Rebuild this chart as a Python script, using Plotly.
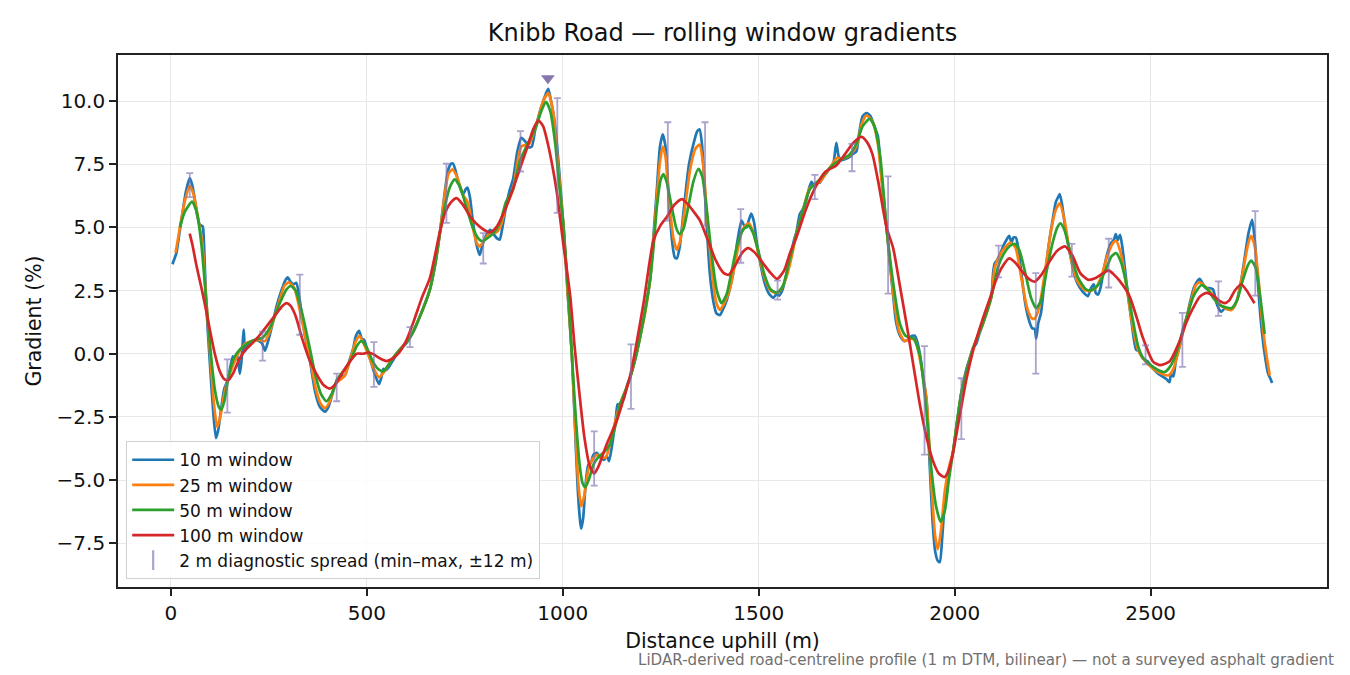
import plotly.graph_objects as go

# ---------------- data ----------------
x10 = [4, 10, 14, 22, 30, 38, 48, 54, 60, 68, 74, 81, 84, 90, 100, 108, 115, 121, 128, 136, 146, 152, 158, 163, 168, 172, 176, 180, 186, 189, 195, 206, 215, 225, 233, 240, 248, 258, 270, 282, 292, 298, 305, 312, 320, 328, 340, 355, 368, 380, 393, 402, 412, 425, 435, 444, 455, 465, 472, 480, 487, 493, 500, 510, 520, 531, 536, 542, 548, 555, 565, 584, 600, 610, 620, 635, 661, 675, 686, 698, 708, 714, 720, 727, 735, 745, 752, 757, 763, 770, 780, 788, 795, 805, 815, 825, 833, 839, 846, 855, 865, 873, 884, 894, 904, 914, 921, 930, 940, 950, 957, 963, 970, 978, 985, 995, 1002, 1012, 1023, 1030, 1038, 1044, 1047, 1052, 1058, 1065, 1072, 1078, 1087, 1095, 1105, 1112, 1118, 1125, 1135, 1140, 1146, 1155, 1165, 1172, 1185, 1197, 1210, 1223, 1232, 1240, 1248, 1255, 1262, 1270, 1280, 1286, 1291, 1298, 1310, 1322, 1335, 1343, 1349, 1355, 1365, 1375, 1385, 1392, 1401, 1410, 1418, 1426, 1435, 1445, 1456, 1462, 1469, 1475, 1481, 1488, 1495, 1505, 1515, 1525, 1537, 1545, 1552, 1560, 1570, 1580, 1590, 1596, 1605, 1612, 1620, 1630, 1635, 1642, 1650, 1656, 1665, 1675, 1681, 1690, 1698, 1704, 1711, 1720, 1732, 1740, 1749, 1757, 1765, 1775, 1785, 1795, 1804, 1812, 1820, 1826, 1835, 1843, 1850, 1858, 1865, 1872, 1880, 1890, 1898, 1904, 1911, 1920, 1928, 1935, 1943, 1950, 1957, 1962, 1968, 1975, 1985, 1996, 2005, 2017, 2030, 2040, 2047, 2055, 2063, 2072, 2085, 2094, 2098, 2102, 2108, 2115, 2125, 2132, 2139, 2145, 2150, 2156, 2162, 2170, 2180, 2190, 2198, 2204, 2208, 2213, 2220, 2230, 2240, 2250, 2258, 2264, 2268, 2274, 2282, 2290, 2300, 2310, 2320, 2330, 2340, 2348, 2355, 2360, 2366, 2372, 2380, 2390, 2400, 2406, 2411, 2416, 2422, 2428, 2440, 2450, 2457, 2463, 2470, 2480, 2492, 2506, 2520, 2530, 2540, 2548, 2552, 2558, 2565, 2574, 2583, 2591, 2600, 2610, 2618, 2625, 2632, 2640, 2650, 2659, 2668, 2675, 2680, 2690, 2700, 2710, 2720, 2730, 2740, 2750, 2759, 2765, 2772, 2780, 2790, 2800, 2806, 2810]
g10 = [3.54, 3.8, 3.98, 4.8, 5.6, 6.4, 6.95, 6.7, 6.2, 5.4, 5.1, 5.04, 4.5, 2.0, -0.5, -2.3, -3.34, -3.0, -2.2, -1.4, -1.0, -0.5, -0.1, -0.3, 0.0, -0.3, -0.8, -0.3, 0.95, 0.1, 0.3, 0.5, 0.55, 0.5, 0.4, 0.12, 0.5, 1.1, 1.9, 2.5, 2.9, 3.02, 2.85, 2.75, 2.8, 2.2, 0.9, -0.3, -1.5, -2.1, -2.29, -2.1, -1.6, -1.0, -0.9, -0.86, -0.3, 0.2, 0.7, 0.91, 0.6, 0.55, 0.2, -0.3, -0.8, -1.2, -1.0, -0.6, -0.65, -0.55, -0.3, 0.16, 0.4, 0.64, 0.9, 1.46, 2.55, 3.6, 4.73, 6.3, 7.3, 7.5, 7.52, 7.2, 6.7, 6.3, 6.5, 6.57, 6.2, 5.3, 4.3, 3.91, 4.3, 4.7, 4.9, 4.7, 4.55, 4.52, 5.0, 5.8, 6.5, 6.9, 8.0, 8.54, 8.4, 8.16, 8.2, 8.9, 9.5, 10.0, 10.3, 10.48, 10.0, 9.3, 8.3, 6.4, 5.0, 2.5, 0.0, -2.5, -5.3, -6.6, -6.92, -6.5, -5.2, -4.4, -4.3, -4.0, -3.92, -4.1, -4.2, -4.05, -4.25, -3.7, -2.6, -2.0, -2.0, -1.8, -1.2, -0.93, -0.2, 0.64, 1.7, 2.96, 4.8, 6.5, 8.2, 8.68, 8.2, 6.2, 4.3, 3.8, 3.77, 4.2, 5.9, 7.5, 8.4, 8.8, 8.88, 8.3, 5.7, 3.2, 2.0, 1.6, 1.53, 1.8, 2.1, 2.55, 3.2, 4.4, 5.27, 5.1, 5.0, 5.3, 5.54, 5.2, 4.4, 3.5, 2.8, 2.4, 2.21, 2.35, 2.3, 2.5, 3.1, 3.8, 4.5, 4.8, 5.54, 5.7, 6.0, 6.63, 6.8, 6.6, 6.8, 6.77, 7.0, 7.2, 7.32, 7.5, 8.34, 7.8, 7.66, 7.7, 7.79, 7.9, 8.0, 8.8, 9.4, 9.52, 9.4, 9.0, 8.6, 7.2, 6.0, 5.0, 3.5, 2.3, 1.3, 0.8, 0.6, 0.5, 0.55, 0.7, 0.71, 0.5, 0.0, -1.0, -1.81, -4.0, -6.5, -7.8, -8.2, -8.24, -7.3, -5.8, -4.7, -3.86, -2.8, -1.54, -0.6, -0.1, 0.23, 0.4, 0.8, 1.19, 1.8, 2.28, 3.2, 3.57, 3.7, 3.91, 4.3, 4.5, 4.66, 4.4, 4.6, 4.6, 4.2, 3.2, 2.0, 1.3, 1.0, 0.98, 0.6, 1.2, 1.6, 3.0, 4.3, 5.3, 6.0, 6.2, 6.32, 5.9, 5.0, 4.3, 3.5, 2.9, 2.6, 2.4, 2.28, 2.6, 2.75, 2.4, 2.34, 2.6, 3.3, 4.0, 4.4, 4.5, 4.73, 4.5, 4.7, 4.2, 2.6, 1.4, 0.6, 0.16, 0.1, -0.18, -0.3, -0.59, -0.8, -0.9, -1.0, -1.13, -0.8, -0.9, -0.2, 0.3, 1.0, 1.39, 2.0, 2.6, 2.85, 2.96, 2.8, 2.6, 2.6, 2.55, 2.0, 1.75, 1.66, 1.8, 1.75, 1.8, 2.1, 2.8, 3.8, 4.8, 5.3, 4.6, 3.2, 1.5, 0.1, -0.8, -1.0, -1.16]

x25 = [12, 23, 35, 48, 58, 70, 80, 88, 100, 110, 118, 126, 136, 146, 160, 175, 190, 206, 225, 240, 255, 275, 290, 301, 315, 325, 340, 355, 370, 383, 393, 405, 420, 444, 460, 472, 481, 492, 505, 518, 531, 545, 560, 584, 610, 635, 661, 675, 686, 698, 708, 718, 730, 745, 757, 770, 780, 788, 800, 815, 830, 840, 855, 873, 894, 914, 935, 950, 963, 975, 985, 995, 1002, 1012, 1023, 1032, 1040, 1047, 1055, 1065, 1075, 1087, 1100, 1110, 1120, 1135, 1146, 1160, 1172, 1185, 1197, 1210, 1223, 1232, 1240, 1248, 1255, 1262, 1272, 1282, 1291, 1300, 1312, 1325, 1338, 1349, 1358, 1368, 1380, 1392, 1401, 1412, 1426, 1440, 1456, 1468, 1476, 1488, 1500, 1515, 1530, 1543, 1555, 1570, 1585, 1596, 1615, 1630, 1656, 1681, 1700, 1711, 1732, 1749, 1763, 1775, 1790, 1804, 1815, 1826, 1843, 1858, 1872, 1890, 1900, 1911, 1928, 1940, 1950, 1957, 1965, 1975, 1985, 1996, 2017, 2047, 2072, 2094, 2102, 2115, 2128, 2142, 2155, 2170, 2185, 2197, 2204, 2215, 2230, 2245, 2258, 2268, 2280, 2295, 2312, 2330, 2345, 2360, 2375, 2390, 2405, 2412, 2425, 2440, 2455, 2468, 2480, 2506, 2530, 2545, 2558, 2574, 2591, 2605, 2615, 2625, 2640, 2655, 2672, 2690, 2706, 2720, 2735, 2748, 2756, 2765, 2775, 2785, 2795, 2804]
g25 = [4.0, 5.0, 6.0, 6.63, 6.3, 5.3, 4.4, 2.6, 0.0, -2.0, -2.9, -2.5, -1.6, -1.0, -0.4, 0.1, 0.4, 0.5, 0.55, 0.5, 1.0, 2.0, 2.7, 2.82, 2.6, 2.0, 0.9, -0.2, -1.4, -2.0, -2.15, -1.9, -1.2, -0.86, -0.1, 0.5, 0.71, 0.4, -0.1, -0.6, -0.93, -0.7, -0.3, 0.16, 0.64, 1.46, 2.55, 3.6, 4.73, 6.2, 7.1, 7.3, 7.0, 6.3, 6.0, 5.0, 4.4, 4.25, 4.5, 4.8, 4.8, 5.0, 5.8, 6.5, 8.2, 8.3, 9.2, 10.0, 10.31, 9.6, 8.0, 6.2, 5.0, 2.5, 0.0, -3.0, -5.2, -6.04, -5.6, -4.6, -4.2, -4.0, -4.1, -4.1, -3.6, -2.6, -2.0, -1.45, -0.93, -0.2, 0.64, 1.6, 2.96, 4.6, 6.2, 7.6, 8.2, 7.8, 6.0, 4.6, 4.11, 4.5, 5.8, 7.3, 8.1, 8.27, 7.5, 5.5, 3.3, 2.0, 1.73, 2.0, 2.55, 3.6, 4.8, 5.1, 5.14, 4.7, 3.9, 3.0, 2.5, 2.41, 2.5, 3.0, 3.9, 4.73, 5.8, 6.55, 6.8, 7.35, 7.75, 7.7, 7.85, 8.2, 9.1, 9.43, 9.2, 8.3, 6.6, 5.0, 2.41, 0.9, 0.5, 0.6, 0.5, -0.2, -1.81, -5.0, -7.2, -7.74, -7.0, -5.4, -4.5, -3.86, -1.54, 0.23, 1.19, 2.28, 3.4, 3.9, 4.2, 4.39, 4.2, 3.0, 1.8, 1.4, 1.39, 1.8, 3.2, 4.8, 5.7, 5.95, 5.3, 3.9, 2.9, 2.55, 2.48, 2.6, 3.1, 3.9, 4.4, 4.46, 3.9, 2.5, 1.0, 0.16, -0.18, -0.59, -0.8, -0.86, -0.6, 0.3, 1.39, 2.2, 2.7, 2.82, 2.65, 2.4, 2.0, 1.8, 1.73, 2.1, 3.2, 4.3, 4.66, 4.3, 3.0, 1.2, 0.0, -0.86]

x50 = [23, 35, 54, 66, 78, 88, 100, 112, 122, 128, 136, 146, 160, 175, 195, 215, 235, 255, 275, 295, 306, 318, 335, 352, 368, 383, 397, 410, 425, 444, 460, 474, 486, 498, 515, 530, 542, 555, 570, 584, 610, 635, 661, 675, 686, 700, 712, 724, 738, 752, 770, 785, 795, 810, 825, 840, 855, 873, 890, 910, 930, 945, 957, 968, 980, 992, 1002, 1012, 1023, 1033, 1043, 1050, 1057, 1066, 1078, 1090, 1105, 1120, 1135, 1146, 1160, 1172, 1185, 1197, 1210, 1223, 1232, 1240, 1250, 1257, 1265, 1278, 1290, 1298, 1308, 1320, 1333, 1346, 1356, 1368, 1380, 1393, 1405, 1418, 1430, 1445, 1460, 1473, 1485, 1500, 1515, 1530, 1547, 1562, 1580, 1596, 1615, 1630, 1656, 1681, 1705, 1730, 1749, 1765, 1783, 1795, 1810, 1826, 1843, 1860, 1875, 1895, 1911, 1928, 1940, 1952, 1964, 1975, 1985, 1996, 2017, 2047, 2072, 2094, 2110, 2125, 2140, 2153, 2165, 2180, 2195, 2208, 2220, 2235, 2250, 2262, 2270, 2280, 2295, 2315, 2335, 2349, 2365, 2385, 2400, 2412, 2425, 2440, 2455, 2468, 2480, 2500, 2520, 2536, 2550, 2565, 2580, 2595, 2610, 2629, 2645, 2660, 2680, 2706, 2720, 2735, 2748, 2757, 2768, 2780, 2791]
g50 = [5.0, 5.6, 6.02, 5.6, 4.3, 2.5, 0.3, -1.4, -2.1, -2.22, -1.9, -1.0, -0.2, 0.15, 0.4, 0.55, 0.65, 1.1, 1.9, 2.55, 2.68, 2.5, 1.6, 0.4, -0.8, -1.6, -1.88, -1.6, -1.0, -0.6, -0.2, 0.3, 0.5, 0.3, -0.3, -0.62, -0.69, -0.45, -0.1, 0.16, 0.64, 1.46, 2.55, 3.6, 4.73, 5.9, 6.6, 6.9, 6.6, 5.9, 5.0, 4.55, 4.45, 4.6, 4.8, 5.2, 6.0, 6.5, 7.6, 8.3, 8.9, 9.6, 9.97, 9.6, 8.4, 6.5, 5.0, 2.8, 0.0, -2.5, -4.4, -5.1, -5.29, -5.0, -4.4, -4.1, -3.9, -3.6, -2.8, -2.0, -1.45, -0.93, -0.2, 0.64, 1.7, 2.96, 4.3, 5.8, 6.9, 7.11, 6.8, 5.8, 4.95, 4.73, 4.95, 5.8, 6.8, 7.32, 7.0, 5.6, 3.9, 2.5, 2.0, 2.35, 3.2, 4.3, 4.9, 5.07, 4.8, 4.0, 3.1, 2.55, 2.41, 2.7, 3.8, 4.73, 5.8, 6.5, 6.9, 7.35, 7.65, 7.85, 8.3, 9.0, 9.29, 9.0, 7.8, 5.0, 2.8, 1.2, 0.7, 0.6, -0.05, -2.3, -4.5, -6.0, -6.65, -6.2, -5.0, -3.86, -1.54, 0.23, 1.19, 2.28, 3.4, 3.95, 4.25, 4.35, 4.1, 3.2, 2.2, 1.8, 2.1, 3.3, 4.4, 5.0, 5.16, 4.9, 4.0, 3.0, 2.55, 2.51, 2.7, 3.3, 3.85, 3.98, 3.6, 2.6, 1.3, 0.3, -0.15, -0.45, -0.65, -0.72, -0.5, 0.0, 0.8, 1.6, 2.3, 2.71, 2.55, 2.2, 1.9, 1.8, 2.1, 2.9, 3.5, 3.68, 3.4, 2.2, 0.78]

x100 = [48, 55, 65, 78, 90, 100, 112, 125, 136, 146, 158, 172, 190, 210, 230, 250, 270, 285, 295, 305, 318, 335, 355, 375, 390, 405, 420, 440, 457, 474, 490, 505, 520, 535, 550, 565, 580, 600, 620, 640, 661, 686, 700, 715, 729, 745, 765, 790, 814, 830, 850, 870, 890, 910, 925, 938, 950, 962, 975, 985, 1000, 1019, 1030, 1044, 1055, 1068, 1080, 1090, 1112, 1138, 1172, 1206, 1231, 1250, 1265, 1285, 1304, 1320, 1335, 1350, 1370, 1390, 1410, 1423, 1440, 1458, 1473, 1490, 1510, 1530, 1547, 1565, 1580, 1596, 1620, 1645, 1670, 1698, 1720, 1741, 1762, 1775, 1790, 1805, 1826, 1843, 1860, 1877, 1895, 1911, 1928, 1945, 1960, 1974, 1985, 1996, 2010, 2030, 2050, 2070, 2090, 2105, 2120, 2139, 2155, 2170, 2190, 2204, 2220, 2240, 2260, 2281, 2300, 2320, 2340, 2360, 2380, 2393, 2405, 2420, 2446, 2465, 2480, 2506, 2523, 2548, 2574, 2590, 2608, 2625, 2642, 2660, 2675, 2689, 2700, 2715, 2731, 2745, 2755, 2765]
g100 = [4.75, 4.3, 3.5, 2.6, 1.7, 0.9, 0.0, -0.7, -1.0, -1.06, -0.8, -0.3, 0.15, 0.45, 0.8, 1.2, 1.6, 1.9, 2.0, 1.9, 1.5, 0.6, -0.3, -0.9, -1.25, -1.38, -1.2, -0.7, -0.3, 0.0, 0.0, 0.05, -0.05, -0.2, -0.29, -0.2, 0.0, 0.5, 1.3, 2.2, 3.0, 4.8, 5.6, 6.0, 6.16, 5.9, 5.4, 5.0, 4.8, 5.0, 5.6, 6.4, 7.3, 8.2, 8.9, 9.22, 9.0, 8.3, 7.3, 6.36, 4.5, 2.27, 0.3, -1.81, -3.3, -4.4, -4.74, -4.5, -3.58, -2.63, -0.86, 2.0, 4.46, 5.1, 5.4, 5.9, 6.12, 5.9, 5.6, 5.27, 4.5, 3.7, 3.2, 3.12, 3.5, 4.0, 4.18, 4.0, 3.6, 3.2, 2.96, 3.3, 4.0, 4.6, 5.7, 6.6, 7.2, 7.45, 7.9, 8.34, 8.58, 8.4, 7.9, 6.8, 5.0, 4.18, 2.7, 1.19, -0.5, -2.0, -3.3, -4.26, -4.75, -4.88, -4.6, -3.9, -2.7, -1.0, 0.3, 1.3, 2.2, 2.9, 3.4, 3.77, 3.6, 3.3, 2.95, 2.85, 3.1, 3.6, 4.05, 4.25, 3.9, 3.2, 2.93, 3.0, 3.2, 3.3, 3.15, 2.9, 2.28, 1.4, 0.64, -0.31, -0.45, -0.31, 0.5, 1.2, 1.8, 2.25, 2.41, 2.3, 2.1, 2.0, 2.1, 2.5, 2.75, 2.5, 2.25, 2.0]

# diagnostic spread (min / max of 2 m gradients, ±12 m)
spread_x = [48, 144, 234, 329, 423, 518, 610, 703, 797, 892, 986, 1080, 1174, 1268, 1363, 1454, 1548, 1643, 1738, 1830, 1923, 2017, 2112, 2207, 2299, 2393, 2487, 2581, 2673, 2767]
spread_lo = [6.2, -2.33, -0.27, 0.75, -1.88, -1.31, 0.26, 5.18, 3.57, 7.21, 5.57, -5.22, -2.18, 5.27, 5.07, 3.6, 2.14, 6.12, 7.22, 2.38, -3.99, -3.38, 3.02, -0.79, 3.05, 2.62, -0.42, -0.52, 1.5, 2.3]
spread_hi = [7.15, -0.22, 0.87, 3.13, -0.79, 0.46, 1.05, 7.52, 4.77, 8.81, 10.11, -3.07, 0.37, 9.16, 9.16, 5.72, 2.89, 7.08, 8.3, 7.02, 0.3, -0.97, 4.28, 3.19, 4.35, 4.55, 0.33, 1.62, 2.86, 5.64]

peak_x = [962]
peak_y = [10.9]

series = [
    ("10 m window", x10, g10, "#1f77b4"),
    ("25 m window", x25, g25, "#ff7f0e"),
    ("50 m window", x50, g50, "#2ca02c"),
    ("100 m window", x100, g100, "#d62728"),
]

FONT = "DejaVu Sans"
SPREAD_COL = "rgba(128,112,176,0.65)"

# the page body has an 8 px margin: compensate so the picture lands where intended
W, H = 1342, 667
L, T, R, B = 110, 47, 23, 88

fig = go.Figure()
for name, xs, ys, col in series:
    fig.add_trace(go.Scatter(
        x=xs, y=ys, mode="lines", name=name,
        line=dict(color=col, width=2.7, shape="spline", smoothing=0.6),
    ))

mid = [(a + b) / 2 for a, b in zip(spread_lo, spread_hi)]
half = [(b - a) / 2 for a, b in zip(spread_lo, spread_hi)]
fig.add_trace(go.Scatter(
    x=spread_x, y=mid, mode="markers", showlegend=False,
    marker=dict(size=1, color="rgba(0,0,0,0)"),
    error_y=dict(type="data", array=half, visible=True,
                 color=SPREAD_COL, thickness=1.8, width=3.5),
))
fig.add_trace(go.Scatter(
    x=[None], y=[None], mode="markers",
    name="2 m diagnostic spread (min–max, ±12 m)",
    marker=dict(symbol="line-ns-open", size=14, color=SPREAD_COL,
                line=dict(color=SPREAD_COL, width=2.2)),
))
fig.add_trace(go.Scatter(
    x=peak_x, y=peak_y, mode="markers", showlegend=False,
    marker=dict(symbol="triangle-down", size=12, color="rgba(128,112,170,0.95)"),
))

axis_common = dict(
    showline=True, linecolor="#222222", linewidth=1.6, mirror=True,
    ticks="outside", ticklen=7, tickwidth=1.6, tickcolor="#222222",
    showgrid=True, gridcolor="#e8e8e8", gridwidth=1.4,
    zeroline=False,
    tickfont=dict(family=FONT, size=20, color="#111111"),
)

plot_w = W - L - R
plot_h = H - T - B

fig.update_layout(
    width=W, height=H,
    paper_bgcolor="white", plot_bgcolor="white",
    margin=dict(l=L, r=R, t=T, b=B),
    font=dict(family=FONT, color="#111111"),
    title=dict(text="Knibb Road — rolling window gradients",
               x=(L + plot_w / 2) / W, xanchor="center",
               y=1 - 25 / H, yanchor="middle",
               font=dict(family=FONT, size=24, color="#111111")),
    xaxis=dict(range=[-135, 2950], tickvals=[0, 500, 1000, 1500, 2000, 2500],
               title=dict(text="Distance uphill (m)", standoff=10,
                          font=dict(family=FONT, size=20.5)),
               **axis_common),
    yaxis=dict(range=[-9.23, 11.82],
               tickvals=[-7.5, -5.0, -2.5, 0.0, 2.5, 5.0, 7.5, 10.0],
               ticktext=["−7.5", "−5.0", "−2.5", "0.0", "2.5", "5.0", "7.5", "10.0"],
               title=dict(text="Gradient (%)", standoff=9,
                          font=dict(family=FONT, size=20.5)),
               **axis_common),
    legend=dict(x=0.0066, y=0.015, xanchor="left", yanchor="bottom",
                bgcolor="rgba(255,255,255,0.85)", bordercolor="#d0d0d0",
                borderwidth=1.2, font=dict(family=FONT, size=17, color="#111111"),
                itemwidth=42, tracegroupgap=0),
    showlegend=True,
)

fig.add_annotation(
    text="LiDAR-derived road-centreline profile (1 m DTM, bilinear) — not a surveyed asphalt gradient",
    xref="paper", yref="paper", x=(1328 - L) / plot_w, y=(H - B - 652) / plot_h,
    xanchor="right", yanchor="middle", showarrow=False,
    font=dict(family=FONT, size=15.1, color="#707070"),
)

fig.write_html("out.html")
